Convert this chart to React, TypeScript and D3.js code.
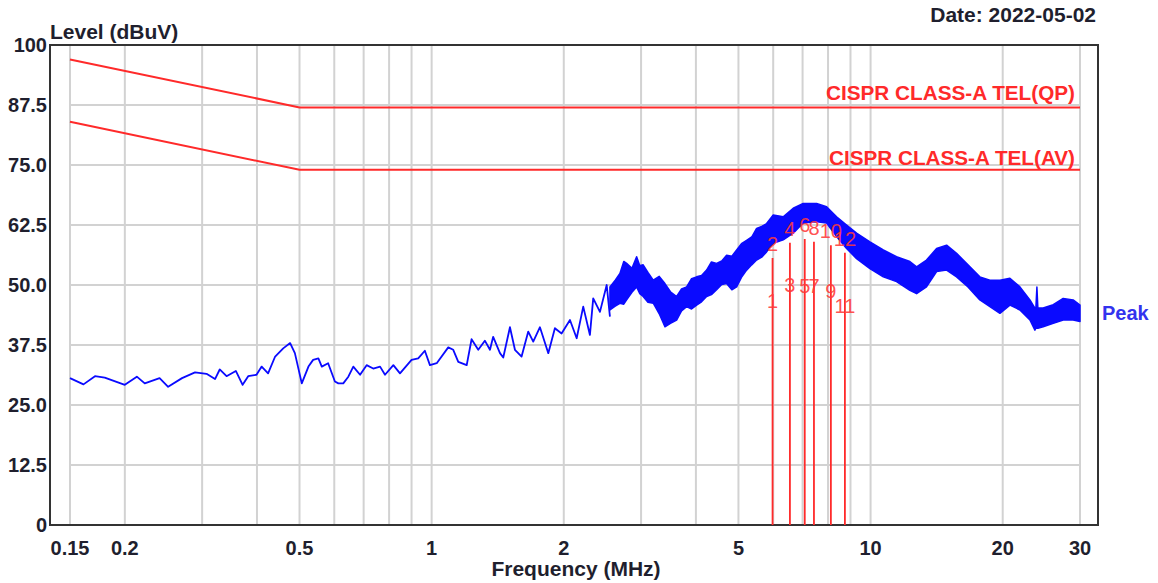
import React from 'react';
import * as d3 from 'd3';

const W = 1158;
const H = 583;

const yTicks = [0, 12.5, 25, 37.5, 50, 62.5, 75, 87.5, 100];
const yTickLabels = ['0', '12.5', '25.0', '37.5', '50.0', '62.5', '75.0', '87.5', '100'];
const xTicks = [0.15, 0.2, 0.5, 1, 2, 5, 10, 20, 30];
const xTickLabels = ['0.15', '0.2', '0.5', '1', '2', '5', '10', '20', '30'];
const xGrid = [0.15, 0.2, 0.3, 0.4, 0.5, 0.6, 0.7, 0.8, 0.9, 1, 2, 3, 4, 5, 6, 7, 8, 9, 10, 20, 30];

const qpLimitFreq = [0.15, 0.5, 30];
const qpLimitLevel = [97, 87, 87];
const avLimitFreq = [0.15, 0.5, 30];
const avLimitLevel = [84, 74, 74];

// Peak trace, thin part (MHz, dBuV)
const traceFreq = [
  0.150, 0.161, 0.171, 0.180, 0.200, 0.213, 0.222, 0.240, 0.251, 0.270,
  0.289, 0.307, 0.321, 0.329, 0.341, 0.358, 0.371, 0.382, 0.399, 0.410,
  0.424, 0.440, 0.459, 0.476, 0.488, 0.506, 0.524, 0.537, 0.552, 0.562,
  0.581, 0.602, 0.613, 0.629, 0.646, 0.663, 0.687, 0.711, 0.736, 0.763,
  0.783, 0.818, 0.847, 0.900, 0.932, 0.965, 0.991, 1.027, 1.091, 1.120,
  1.150, 1.202, 1.233, 1.277, 1.322, 1.358, 1.381, 1.431, 1.456, 1.508,
  1.548, 1.603, 1.660, 1.704, 1.765, 1.844, 1.909, 1.977, 2.066, 2.140,
  2.215, 2.294, 2.334, 2.418, 2.505, 2.548,
];
const traceLevel = [
  30.6, 29.3, 31.0, 30.7, 29.2, 30.9, 29.5, 30.6, 28.8, 30.6,
  31.8, 31.5, 30.4, 32.4, 31.0, 32.1, 29.2, 31.0, 31.3, 33.0,
  31.6, 35.1, 36.8, 37.9, 35.8, 29.5, 33.0, 34.4, 34.7, 33.0,
  33.7, 29.9, 29.5, 29.5, 30.9, 33.0, 31.3, 33.3, 32.6, 33.0,
  31.3, 33.3, 31.6, 34.4, 34.7, 36.3, 33.3, 33.7, 37.0, 36.5,
  34.0, 33.3, 38.7, 36.5, 38.4, 36.5, 39.2, 35.8, 34.9, 41.2,
  36.5, 35.1, 40.3, 38.2, 41.2, 35.8, 41.0, 39.9, 42.7, 38.9,
  45.5, 39.6, 47.2, 44.4, 50.0, 43.4,
];

// Peak trace, dense part: upper and lower edge of the band (MHz, dBuV)
const bandFreq = [
  2.548, 2.62, 2.685, 2.74, 2.781, 2.86, 2.931, 2.98, 3.033, 3.11,
  3.198, 3.30, 3.400, 3.50, 3.615, 3.71, 3.810, 3.91, 4.015, 4.12,
  4.231, 4.34, 4.459, 4.58, 4.699, 4.83, 4.953, 5.08, 5.219, 5.36,
  5.500, 5.65, 5.796, 6.001, 6.324, 6.664, 7.023, 7.533, 7.939, 8.367,
  8.817, 9.291, 9.966, 10.69, 11.46, 12.29, 12.73, 13.41, 14.14, 14.90,
  15.70, 16.67, 17.74, 18.70, 19.71, 20.77, 21.89, 23.07, 23.68, 23.80,
  23.93, 24.05, 24.73, 26.07, 27.47, 28.94, 30.0,
];
const bandHi = [
  49.6, 51.0, 52.4, 54.9, 54.5, 53.5, 55.9, 54.0, 54.2, 52.6,
  51.0, 51.8, 50.3, 48.6, 47.6, 49.2, 49.6, 51.3, 51.7, 52.0,
  53.1, 54.8, 54.5, 55.0, 56.2, 56.0, 57.3, 58.6, 59.3, 60.0,
  61.8, 62.2, 62.8, 64.6, 64.2, 66.0, 67.0, 67.0, 66.3, 64.2,
  62.5, 60.8, 59.0, 57.3, 55.9, 54.9, 53.8, 55.2, 57.6, 58.3,
  56.6, 54.2, 51.7, 51.0, 51.0, 51.4, 49.6, 46.9, 45.2, 45.2,
  49.6, 45.2, 45.2, 45.9, 47.2, 46.9, 45.8,
];
const bandLo = [
  44.8, 45.6, 46.2, 46.0, 46.9, 48.5, 49.6, 48.2, 47.6, 46.4,
  46.2, 44.0, 41.3, 42.0, 42.7, 44.6, 45.5, 45.0, 45.8, 46.5,
  47.6, 48.0, 49.0, 50.1, 50.3, 49.0, 49.6, 51.6, 53.1, 54.2,
  55.2, 55.8, 56.9, 58.7, 59.4, 60.8, 62.9, 63.2, 62.9, 60.1,
  57.6, 55.5, 53.4, 51.7, 50.7, 48.9, 48.2, 49.6, 52.8, 53.1,
  51.7, 49.6, 46.9, 45.5, 44.1, 45.8, 44.8, 42.7, 40.6, 41.0,
  41.0, 41.0, 41.3, 42.0, 42.7, 42.7, 42.4,
];

const markerFreq = [5.98, 6.55, 7.08, 7.43, 8.12, 8.74];
const markerQP = [55.6, 58.8, 59.6, 59.0, 58.3, 56.7];
const markerAV = [45.2, 48.5, 48.3, 48.3, 47.3, 44.2];

const FONT = 'Arial, "Liberation Sans", Helvetica, sans-serif';
const TEXT = '#1f1f2e';
const RED = '#ff2a2a';
const BLUE = '#0a0aff';

export default function App() {
  const x = d3.scaleLog().domain([0.15, 30]).range([70, 1080]);
  const y = d3.scaleLinear().domain([0, 100]).range([525, 45]);

  const frame = { l: 50, t: 45, r: 1098, b: 525 };

  const line = d3
    .line<[number, number]>()
    .x((d) => x(d[0]))
    .y((d) => y(d[1]));

  const qpPts = qpLimitFreq.map((f, i) => [f, qpLimitLevel[i]] as [number, number]);
  const avPts = avLimitFreq.map((f, i) => [f, avLimitLevel[i]] as [number, number]);
  const tracePts = traceFreq.map((f, i) => [f, traceLevel[i]] as [number, number]);

  const area = d3
    .area<number>()
    .x((i) => x(bandFreq[i]))
    .y0((i) => y(bandLo[i]))
    .y1((i) => y(bandHi[i]));
  const idx = d3.range(bandFreq.length);

  return (
    <svg
      width={W}
      height={H}
      viewBox={`0 0 ${W} ${H}`}
      style={{ position: 'absolute', left: 0, top: 0, background: '#fff' }}
      fontFamily={FONT}
    >
      <rect x={0} y={0} width={W} height={H} fill="#fff" />

      {/* grid */}
      {xGrid.map((f) => (
        <line key={'gx' + f} x1={x(f)} x2={x(f)} y1={frame.t} y2={frame.b} stroke="#d2d2d2" strokeWidth={2} />
      ))}
      {yTicks.slice(1, -1).map((v) => (
        <line key={'gy' + v} x1={x(0.15)} x2={x(30)} y1={y(v)} y2={y(v)} stroke="#d2d2d2" strokeWidth={2} />
      ))}

      {/* frame */}
      <rect
        x={frame.l}
        y={frame.t}
        width={frame.r - frame.l}
        height={frame.b - frame.t}
        fill="none"
        stroke="#333"
        strokeWidth={2}
      />

      {/* limit lines */}
      <path d={line(qpPts) || ''} fill="none" stroke={RED} strokeWidth={2} />
      <path d={line(avPts) || ''} fill="none" stroke={RED} strokeWidth={2} />
      <text x={1075} y={100} textAnchor="end" fontSize={20} fontWeight="bold" fill={RED}
        textLength={249} lengthAdjust="spacingAndGlyphs">
        CISPR CLASS-A TEL(QP)
      </text>
      <text x={1075} y={165} textAnchor="end" fontSize={20} fontWeight="bold" fill={RED}
        textLength={246} lengthAdjust="spacingAndGlyphs">
        CISPR CLASS-A TEL(AV)
      </text>

      {/* peak trace */}
      <path d={line(tracePts) || ''} fill="none" stroke={BLUE} strokeWidth={1.8} strokeLinejoin="round" />
      <path d={area(idx) || ''} fill={BLUE} stroke={BLUE} strokeWidth={1.5} strokeLinejoin="round" />

      {/* markers */}
      {markerFreq.map((f, i) => (
        <g key={'m' + i}>
          <line x1={x(f)} x2={x(f)} y1={y(0)} y2={y(markerQP[i])} stroke={RED} strokeWidth={1.8} />
          <text x={x(f)} y={y(markerQP[i]) - 7} textAnchor="middle" fontSize={20} fill="#ff3a3a" fillOpacity={0.9}>
            {String(2 * i + 2)}
          </text>
          <text x={x(f)} y={y(markerAV[i])} textAnchor="middle" fontSize={20} fill="#ff3a3a" fillOpacity={0.9}>
            {String(2 * i + 1)}
          </text>
        </g>
      ))}

      {/* axes labels */}
      {yTicks.map((v, i) => (
        <text
          key={'yt' + v}
          x={47}
          y={y(v)}
          dy="0.35em"
          textAnchor="end"
          fontSize={20}
          fontWeight="bold"
          fill={TEXT}
        >
          {yTickLabels[i]}
        </text>
      ))}
      {xTicks.map((f, i) => (
        <text key={'xt' + f} x={x(f)} y={555} textAnchor="middle" fontSize={20} fontWeight="bold" fill={TEXT}>
          {xTickLabels[i]}
        </text>
      ))}

      <text x={50} y={39} fontSize={21} fontWeight="bold" fill={TEXT}>
        Level (dBuV)
      </text>
      <text x={576} y={576} textAnchor="middle" fontSize={21} fontWeight="bold" fill={TEXT}>
        Frequency (MHz)
      </text>
      <text x={1096} y={22} textAnchor="end" fontSize={21} fontWeight="bold" fill={TEXT}>
        Date: 2022-05-02
      </text>
      <text x={1102} y={320} fontSize={20} fontWeight="bold" fill="#3333ee">
        Peak
      </text>
    </svg>
  );
}
